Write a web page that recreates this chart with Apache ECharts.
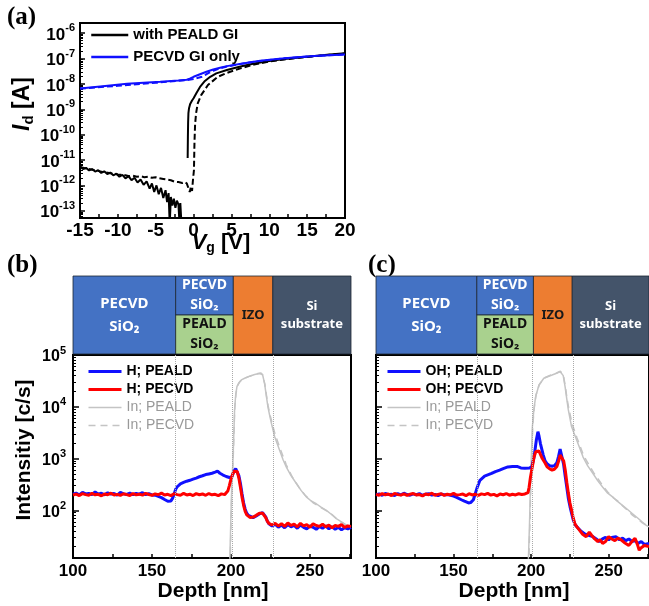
<!DOCTYPE html>
<html><head><meta charset="utf-8">
<script src="https://cdn.jsdelivr.net/npm/echarts@6/dist/echarts.min.js"></script>
<style>html,body{margin:0;padding:0;background:#fff}#c{width:649px;height:606px}</style>
</head><body><div id="c"></div>
<script>
// ---------------- DATA ----------------
// Panel (a): transfer curves
const aPealdFwdV = [-15,-14.6,-14.2,-13.8,-13.4,-13,-12.6,-12.2,-11.8,-11.4,-11,-10.6,-10.2,-9.8,-9.4,-9,-8.6,-8.2,-7.8,-7.4,-7,-6.6,-6.2,-5.8,-5.5,-5.2,-4.9,-4.6,-4.3,-4,-3.7,-3.5,-3.3,-3.15,-3,-2.8,-2.6,-2.4,-2.2,-2,-1.85,-1.75,-1.6,-1.2,-0.78,-0.75,-0.72,-0.68,-0.6,-0.45,-0.2,0,0.4,0.85,1.5,2.2,3,4.4,6.2,8,10,12,14,16,18,20];
const aPealdFwdI = [5.5e-12,4.4e-12,4.9e-12,3.9e-12,4.4e-12,3.5e-12,4e-12,3.1e-12,3.6e-12,2.8e-12,3.2e-12,2.5e-12,2.9e-12,2.2e-12,2.6e-12,1.9e-12,2.3e-12,1.6e-12,2e-12,1.3e-12,1.7e-12,1.05e-12,1.45e-12,7.5e-13,1.2e-12,5.5e-13,1e-12,4.5e-13,8e-13,3.2e-13,6.5e-13,2.2e-13,5e-13,3e-14,3.5e-13,1.6e-13,3e-13,1.3e-13,2.5e-13,1.8e-13,3e-14,2e-13,3e-14,null,1.2e-11,8e-11,3e-10,7e-10,1.1e-9,1.6e-9,2.2e-9,2.7e-9,4.5e-9,7.6e-9,1.3e-8,1.9e-8,2.6e-8,3.5e-8,4.8e-8,6.3e-8,8e-8,9.5e-8,1.1e-7,1.25e-7,1.42e-7,1.6e-7];
const aPealdRevV = [-15,-14,-13,-12,-11,-10,-9,-8.5,-8,-7.5,-7,-6.5,-6,-5.5,-5,-4.5,-4,-3.5,-3,-2.5,-2,-1.5,-1.2,-0.9,-0.7,-0.5,-0.35,-0.2,-0.1,0.05,0.12,0.2,0.33,0.55,1,1.9,3.2,4.4,6.2,8,10,12,14,16,18,20];
const aPealdRevI = [5.3e-12,4.5e-12,3.9e-12,3.4e-12,3e-12,2.7e-12,2.5e-12,2.3e-12,2.4e-12,2.2e-12,2.3e-12,2.1e-12,2.2e-12,2e-12,2.1e-12,1.9e-12,1.8e-12,1.7e-12,1.6e-12,1.4e-12,1.35e-12,1.25e-12,1.35e-12,1.2e-12,1.4e-12,5.5e-13,9e-13,6e-13,1.4e-12,4e-12,5e-11,2.5e-10,6.9e-10,1.7e-9,3.6e-9,9e-9,1.9e-8,2.7e-8,4.1e-8,5.8e-8,7.6e-8,9.2e-8,1.08e-7,1.23e-7,1.4e-7,1.58e-7];
const aPecvdFwdV = [-15,-12,-8.8,-4.4,-2,-0.9,-0.5,0,0.85,1.7,2.6,3.5,4.4,6.5,8.8,11,13.2,16.5,20];
const aPecvdFwdI = [6.6e-9,8.1e-9,1e-8,1.2e-8,1.35e-8,1.45e-8,1.6e-8,1.9e-8,2.4e-8,3e-8,3.7e-8,4.3e-8,5e-8,6.3e-8,8.1e-8,9.5e-8,1.1e-7,1.27e-7,1.45e-7];
const aPecvdRevV = [-15,-10,-5,-1,0,0.5,1,1.5,2,2.6,3.5,4.4,6,8,12,16,20];
const aPecvdRevI = [6.5e-9,8.4e-9,1.1e-8,1.4e-8,1.55e-8,1.7e-8,1.85e-8,2.2e-8,2.7e-8,3.3e-8,4.1e-8,4.8e-8,6e-8,7.5e-8,1.02e-7,1.25e-7,1.43e-7];
const aXTicks = [-15,-10,-5,0,5,10,15,20];
const aYTicks = [1e-13,1e-12,1e-11,1e-10,1e-9,1e-8,1e-7,1e-6];

// Panel (b): H depth profiles
const hPealdD = [100,102,104,106,108,110,112,114,116,118,120,122,124,126,128,130,132,134,136,138,140,142,144,146,148,150,152,154,156,158,160,161,162,163,164,165,166,167,168,170,172,174,176,178,180,182,184,186,188,190,191.5,193,195,197,199,200.5,202,203,204,205,206,207,208,209,210,211,212,214,216,218,219,220,221,222,223,224,225,226,228,230,232,234,236,238,240,242,244,246,248,250,252,254,256,258,260,262,264,266,268,270,272,274,276];
const hPealdV = [205,215,198,222,207,212,200,226,204,214,199,218,206,211,196,221,208,203,215,200,212,205,219,201,210,198,196,186,176,162,150,145,152,170,205,255,285,310,325,345,365,380,400,420,445,465,490,505,520,545,570,520,480,450,430,440,580,640,610,470,330,210,140,105,88,80,74,72,78,85,92,90,85,75,62,55,52,50,54,47,52,46,53,48,51,45,52,47,44,50,47,43,49,45,50,44,48,43,47,42,46,44,47];
const hPecvdD = [100,102,104,106,108,110,112,114,116,118,120,122,124,126,128,130,132,134,136,138,140,142,144,146,148,150,152,154,156,158,160,162,164,166,168,170,172,174,176,178,180,182,184,186,188,190,192,194,196,197,198,199,200,201,202,203,204,205,206,207,208,209,210,211,212,214,216,218,219,220,221,222,223,224,225,226,228,230,232,234,236,238,240,242,244,246,248,250,252,254,256,258,260,262,264,266,268,270,272,274,276];
const hPecvdV = [198,206,193,210,201,196,212,199,204,191,207,200,214,197,203,195,209,201,193,211,199,205,196,213,202,194,208,200,215,197,204,192,209,201,196,212,198,205,193,210,200,207,195,211,199,204,192,208,201,205,235,300,400,490,570,610,560,420,280,180,125,95,82,76,73,74,80,88,92,88,82,72,62,56,54,52,56,50,55,49,57,51,54,48,56,50,53,47,55,51,49,54,48,52,46,51,49,53,47,50,49];
const inPealdBD = [199,200,200.5,201.3,202.3,203,203.8,205,206.6,209,211.8,215,218,219.2,220,221.3,222.3,223.4,224.5,225.6,227.7,230.8,233,235,238,241.4,244.5,247.7,251,254,257,260.4,263.5,266.7,270,273,276];
const inPealdBV = [5,80,300,940,8700,17000,24500,29000,33000,36000,39000,42000,44000,46000,42000,28000,17000,10000,6800,4800,2640,1450,950,690,470,330,240,182,150,134,115,100,84,69,60,52,48];
const inPecvdBD = [199.3,200.2,200.7,201.5,202.4,203.2,204,205.5,207,210,213,216,219,220,221.5,222.5,223.5,224.6,225.8,228,231,235,239,243,247,252,256,260,264,268,272,276];
const inPecvdBV = [5,90,350,1200,9500,18000,25000,30000,34000,37000,40000,43000,45000,41000,27000,16500,10500,7200,5200,2900,1600,760,430,280,195,140,118,100,83,64,54,48];

// Panel (c): OH depth profiles
const ohPealdD = [100,102,104,106,108,110,112,114,116,118,120,122,124,126,128,130,132,134,136,138,140,142,144,146,148,150,152,155,157,159.7,161,162.8,164,165,167,170,174.5,177,179.7,182,185,188,191.3,193.4,196,199,200.5,201.9,203.4,204.4,205,206,207.8,209,210.3,212,213.5,215,216.6,217.7,218.7,219.5,220.9,222,223,224,225.1,226,227.2,228.5,230.4,232,234.6,237,239.9,242,244,246,248,250,252,254.6,257,259,261,263,265,267,269,271,273,276];
const ohPealdV = [198,207,195,212,201,204,193,210,199,214,202,196,208,200,211,194,205,209,197,203,192,206,199,201,195,188,178,160,150,139,141,160,210,263,380,457,515,560,600,640,690,705,700,660,650,655,700,1070,2300,3300,2800,1950,1180,900,790,730,710,730,830,1100,1520,1450,790,450,280,170,117,90,65,52,45,40,35,33,31,28,25,28,30,27,30,31,27,29,26,28,25,26,23,25,22,23];
const ohPecvdD = [100,102,104,106,108,110,112,114,116,118,120,122,124,126,128,130,132,134,136,138,140,142,144,146,148,150,152,154,156,158,160,162,164,166,168,170,172,174,176,178,180,182,184,186,188,190,192,194,196,198,198.7,199.5,200.4,201.9,203,204,205,206,207.2,209,210.3,212,213.5,215,216.6,218,218.7,219.8,221,222,223,224,225,226.1,227,228.2,229.5,231.3,233,235.5,237.5,239,241,243,244.5,246.1,248,250,252,254,256,258,260,263,265,267,268.5,269.7,271,273,276];
const ohPecvdV = [203,196,210,199,206,193,212,201,197,208,195,204,211,198,202,190,207,200,214,196,203,209,194,205,199,212,197,201,206,192,210,198,204,195,208,201,213,197,203,190,206,200,211,196,204,198,209,202,207,220,280,420,600,1070,1350,1450,1400,1200,1000,820,690,630,600,620,700,950,1170,1220,900,600,350,215,140,100,75,55,48,41,35,31,38,33,28,25,27,23,25,31,28,26,29,27,24,21,25,29,22,17,19,21,20];
const inPealdCD = [198.1,199,199.7,200.3,200.8,201.8,202.9,205,208.2,213.5,216,218.7,219.8,220.7,221.9,223,224,226.1,229.3,233.5,236.5,239.9,243,246.2,249,252.5,255.5,258.9,262,265.2,268.5,271.5,274,276];
const inPealdCV = [8,60,450,1500,4000,9000,15600,26000,35500,41000,44000,48000,50000,40000,24500,14000,8700,4100,2300,1070,720,515,370,280,220,182,150,125,105,87,72,60,52,48];
const inPecvdCD = [198.4,199.3,200,200.6,201.1,202.1,203.2,205.3,208.5,213,216.5,219,220.2,221,222.2,223.3,224.4,226.5,229.6,233.8,237,240.2,243.5,246.5,250,253,256,259.2,262.5,265.5,268.8,271.8,274,276];
const inPecvdCV = [8,70,500,1700,4500,10000,17000,27000,36000,41500,45000,48500,51000,38000,23000,13500,9000,4600,2500,1150,780,540,390,290,215,175,150,120,98,80,68,57,52,49];

const depthTicks = [100,150,200,250];
const intensityTicks = [1e2,1e3,1e4,1e5];
const interfaces = [165,201,227];

// Layer stack (depth ranges, rows 0..2)
const layerText = ['PECVD\nSiO\u2082','PECVD\nSiO\u2082','PEALD\nSiO\u2082','IZO','Si\nsubstrate'];
const layerFrom = [100,165,165,201.5,226.5];
const layerTo   = [165,201.5,201.5,226.5,276];
const layerLow  = [0,1,0,0,0];
const layerHigh = [2,2,1,2,2];

// ---------------- STYLE ----------------
const FONT = '"Liberation Sans", Arial, Helvetica, sans-serif';
const LFONT = '"Noto Sans", "Open Sans", "DejaVu Sans", sans-serif';
const BLUE = '#1010ff', RED = '#ff0000', GRAY = '#c4c4c4';
const layerStyle = [
  {fill:'#4472C4', color:'#fff', size:15, lh:23},
  {fill:'#4472C4', color:'#fff', size:14, lh:20},
  {fill:'#A9D18E', color:'#111', size:14, lh:20},
  {fill:'#ED7D31', color:'#1a1a1a', size:13, lh:18},
  {fill:'#44546A', color:'#fff', size:13, lh:18}
];

function pairs(xs, ys){ return xs.map((x,i)=>[x, ys[i] === null ? '-' : ys[i]]); }
function logMinor(e0, e1){ const r=[]; for(let e=e0;e<e1;e++) for(let k=2;k<10;k++) r.push(k*Math.pow(10,e)); return r; }
function powLabel(v){ return '{b|10}{s|' + Math.round(Math.log10(v)) + '}'; }

const chart = echarts.init(document.getElementById('c'), null, {renderer:'canvas'});

const axisLineStyle = {show:true, onZero:false, lineStyle:{color:'#000', width:2}};
function richPow(big, small){
  return {
    b:{fontFamily:FONT, fontWeight:'bold', fontSize:big, color:'#000', lineHeight:big+4, verticalAlign:'bottom'},
    s:{fontFamily:FONT, fontWeight:'bold', fontSize:small, color:'#000', lineHeight:small, verticalAlign:'top'}
  };
}

function layerRender(params, api){
  const i = params.dataIndex;
  const p0 = api.coord([layerFrom[i], layerHigh[i]]);
  const p1 = api.coord([layerTo[i], layerLow[i]]);
  const st = layerStyle[i];
  return {
    type:'group',
    children:[
      {type:'rect', shape:{x:p0[0], y:p0[1], width:p1[0]-p0[0], height:p1[1]-p0[1]},
       style:{fill:st.fill, stroke:'#1c2633', lineWidth:0.8}},
      {type:'text', x:(p0[0]+p1[0])/2, y:(p0[1]+p1[1])/2,
       style:{text:layerText[i], fill:st.color, fontFamily:LFONT, fontWeight:'bold', fontSize:st.size,
              lineHeight:st.lh, align:'center', verticalAlign:'middle'}}
    ]
  };
}
const layerData = layerFrom.map((v,i)=>[v, layerTo[i], layerLow[i], layerHigh[i]]);

function depthX(grid){
  return {type:'value', gridIndex:grid, min:100, max:276, interval:25,
    axisLine:axisLineStyle,
    axisTick:{show:true, inside:true, length:4, lineStyle:{color:'#000', width:1.5}},
    axisLabel:{customValues:depthTicks, color:'#000', fontFamily:FONT, fontWeight:'bold', fontSize:17, margin:5},
    splitLine:{show:false}};
}
function intensityY(grid, showLabels){
  return {type:'log', gridIndex:grid, min:12, max:1e5, position:'left',
    axisLine:axisLineStyle,
    axisTick:{show:true, inside:true, length:6, customValues:intensityTicks, lineStyle:{color:'#000', width:1.5}},
    axisLabel:{show:showLabels, customValues:intensityTicks, formatter:powLabel, margin:7, rich:richPow(16,11)},
    splitLine:{show:false}};
}
function minorY(grid, min, max, e0, e1){
  return {type:'log', gridIndex:grid, min:min, max:max, position:'left',
    axisLine:{show:false, onZero:false}, axisLabel:{show:false},
    axisTick:{show:true, inside:true, length:3, customValues:logMinor(e0,e1), lineStyle:{color:'#000', width:1}},
    splitLine:{show:false}};
}
function hiddenAxis(grid, min, max){
  return {type:'value', gridIndex:grid, min:min, max:max, show:false, axisLine:{onZero:false}, splitLine:{show:false}};
}
const noSym = {type:'line', symbol:'none', showSymbol:false, animation:false};
const markLines = {silent:true, symbol:'none', label:{show:false},
  lineStyle:{type:'dotted', color:'#aaa', width:1}, data:interfaces.map(v=>({xAxis:v}))};
const legendItem = {opacity:0, borderWidth:0};
const boldText = {fontWeight:'bold', color:'#000'};
const grayText = {fontWeight:'normal', color:'#999'};

const option = {
  backgroundColor:'#fff',
  animation:false,
  grid:[
    {left:80, top:23, width:265, height:195, show:true, borderColor:'#000', borderWidth:2},
    {left:73, top:276, width:278, height:78},
    {left:73, top:355, width:278, height:203, show:true, borderColor:'#000', borderWidth:2},
    {left:376, top:276, width:278, height:78},
    {left:376, top:355, width:278, height:203, show:true, borderColor:'#000', borderWidth:2}
  ],
  xAxis:[
    {type:'value', gridIndex:0, min:-15, max:20, interval:2.5,
      axisLine:axisLineStyle,
      axisTick:{show:true, inside:true, length:4, lineStyle:{color:'#000', width:1.5}},
      axisLabel:{customValues:aXTicks, color:'#000', fontFamily:FONT, fontWeight:'bold', fontSize:19, margin:3},
      splitLine:{show:false}},
    hiddenAxis(1, 100, 276),
    depthX(2),
    hiddenAxis(3, 100, 276),
    depthX(4)
  ],
  yAxis:[
    {type:'log', gridIndex:0, min:5.2e-14, max:2.5e-6, position:'left',
      axisLine:axisLineStyle,
      axisTick:{show:true, inside:true, length:5, customValues:aYTicks, lineStyle:{color:'#000', width:1.5}},
      axisLabel:{customValues:aYTicks, formatter:powLabel, margin:5, rich:richPow(17,11)},
      splitLine:{show:false}},
    minorY(0, 5.2e-14, 2.5e-6, -14, -6),
    hiddenAxis(1, 0, 2),
    intensityY(2, true),
    minorY(2, 12, 1e5, 1, 5),
    hiddenAxis(3, 0, 2),
    intensityY(4, false),
    minorY(4, 12, 1e5, 1, 5)
  ],
  legend:[
    {left:85, top:22, orient:'vertical', itemWidth:37, itemHeight:14, itemGap:6, itemStyle:legendItem,
      lineStyle:{width:2.5},
      data:['with PEALD GI','PECVD GI only'],
      textStyle:{fontFamily:FONT, fontWeight:'bold', fontSize:15, color:'#000', lineHeight:16}},
    {left:82, top:359, orient:'vertical', itemWidth:33, itemHeight:14, itemGap:3, itemStyle:legendItem,
      data:[
        {name:'H; PEALD', textStyle:boldText, lineStyle:{width:3}},
        {name:'H; PECVD', textStyle:boldText, lineStyle:{width:3}},
        {name:'In; PEALD', textStyle:grayText, lineStyle:{width:1.5}},
        {name:'In; PECVD', textStyle:grayText, lineStyle:{width:1.5}}
      ],
      textStyle:{fontFamily:FONT, fontSize:14, lineHeight:15}},
    {left:381, top:359, orient:'vertical', itemWidth:33, itemHeight:14, itemGap:3, itemStyle:legendItem,
      data:[
        {name:'OH; PEALD', textStyle:boldText, lineStyle:{width:3}},
        {name:'OH; PECVD', textStyle:boldText, lineStyle:{width:3}},
        {name:'In; PEALD', textStyle:grayText, lineStyle:{width:1.5}},
        {name:'In; PECVD', textStyle:grayText, lineStyle:{width:1.5}}
      ],
      textStyle:{fontFamily:FONT, fontSize:14, lineHeight:15}}
  ],
  series:[
    // (a)
    Object.assign({}, noSym, {name:'with PEALD GI', xAxisIndex:0, yAxisIndex:0, data:pairs(aPealdFwdV, aPealdFwdI),
      color:'#000', lineStyle:{color:'#000', width:2}}),
    Object.assign({}, noSym, {name:'with PEALD GI (reverse)', xAxisIndex:0, yAxisIndex:0, data:pairs(aPealdRevV, aPealdRevI),
      color:'#000', lineStyle:{color:'#000', width:2, type:[6,3]}}),
    Object.assign({}, noSym, {name:'PECVD GI only (reverse)', xAxisIndex:0, yAxisIndex:0, data:pairs(aPecvdRevV, aPecvdRevI),
      color:BLUE, lineStyle:{color:BLUE, width:2, type:[6,3]}}),
    Object.assign({}, noSym, {name:'PECVD GI only', xAxisIndex:0, yAxisIndex:0, data:pairs(aPecvdFwdV, aPecvdFwdI),
      color:BLUE, lineStyle:{color:BLUE, width:2}}),
    // (b) layers
    {type:'custom', xAxisIndex:1, yAxisIndex:2, data:layerData, renderItem:layerRender, silent:true,
      encode:{x:[0,1], y:[2,3]}},
    // (b) profiles
    Object.assign({}, noSym, {name:'In; PEALD', xAxisIndex:2, yAxisIndex:3, data:pairs(inPealdBD, inPealdBV),
      color:GRAY, lineStyle:{color:GRAY, width:1.5}, markLine:markLines}),
    Object.assign({}, noSym, {name:'In; PECVD', xAxisIndex:2, yAxisIndex:3, data:pairs(inPecvdBD, inPecvdBV),
      color:GRAY, lineStyle:{color:GRAY, width:1.5, type:[7,5]}}),
    Object.assign({}, noSym, {name:'H; PEALD', xAxisIndex:2, yAxisIndex:3, data:pairs(hPealdD, hPealdV),
      color:BLUE, lineStyle:{color:BLUE, width:3}}),
    Object.assign({}, noSym, {name:'H; PECVD', xAxisIndex:2, yAxisIndex:3, data:pairs(hPecvdD, hPecvdV),
      color:RED, lineStyle:{color:RED, width:3}}),
    // (c) layers
    {type:'custom', xAxisIndex:3, yAxisIndex:5, data:layerData, renderItem:layerRender, silent:true,
      encode:{x:[0,1], y:[2,3]}},
    // (c) profiles
    Object.assign({}, noSym, {name:'In; PEALD', xAxisIndex:4, yAxisIndex:6, data:pairs(inPealdCD, inPealdCV),
      color:GRAY, lineStyle:{color:GRAY, width:1.5}, markLine:markLines}),
    Object.assign({}, noSym, {name:'In; PECVD', xAxisIndex:4, yAxisIndex:6, data:pairs(inPecvdCD, inPecvdCV),
      color:GRAY, lineStyle:{color:GRAY, width:1.5, type:[7,5]}}),
    Object.assign({}, noSym, {name:'OH; PEALD', xAxisIndex:4, yAxisIndex:6, data:pairs(ohPealdD, ohPealdV),
      color:BLUE, lineStyle:{color:BLUE, width:3}}),
    Object.assign({}, noSym, {name:'OH; PECVD', xAxisIndex:4, yAxisIndex:6, data:pairs(ohPecvdD, ohPecvdV),
      color:RED, lineStyle:{color:RED, width:3}})
  ],
  graphic:[
    {type:'text', left:7, top:5, style:{text:'(a)', fontFamily:'"Liberation Serif", "Times New Roman", serif', fontWeight:'bold', fontSize:25, fill:'#000'}},
    {type:'text', left:7, top:253, style:{text:'(b)', fontFamily:'"Liberation Serif", "Times New Roman", serif', fontWeight:'bold', fontSize:25, fill:'#000'}},
    {type:'text', left:368, top:253, style:{text:'(c)', fontFamily:'"Liberation Serif", "Times New Roman", serif', fontWeight:'bold', fontSize:25, fill:'#000'}},
    {type:'text', x:23, y:104, rotation:Math.PI/2,
      style:{text:'{i|I}{d|d}{n| [A]}', align:'center', verticalAlign:'middle',
        rich:{i:{fontFamily:FONT, fontWeight:'bold', fontStyle:'italic', fontSize:23, lineHeight:26, fill:'#000'},
              d:{fontFamily:FONT, fontWeight:'bold', fontSize:15, lineHeight:14, verticalAlign:'bottom', fill:'#000'},
              n:{fontFamily:FONT, fontWeight:'bold', fontSize:23, lineHeight:26, fill:'#000'}}}},
    {type:'text', x:221, y:243,
      style:{text:'{i|V}{d|g}{n| [V]}', align:'center', verticalAlign:'middle',
        rich:{i:{fontFamily:FONT, fontWeight:'bold', fontStyle:'italic', fontSize:22, lineHeight:24, fill:'#000'},
              d:{fontFamily:FONT, fontWeight:'bold', fontSize:14, lineHeight:12, verticalAlign:'bottom', fill:'#000'},
              n:{fontFamily:FONT, fontWeight:'bold', fontSize:22, lineHeight:24, fill:'#000'}}}},
    {type:'text', x:24, y:450, rotation:Math.PI/2,
      style:{text:'Intensitiy [c/s]', align:'center', verticalAlign:'middle', fontFamily:FONT, fontWeight:'bold', fontSize:21, fill:'#000'}},
    {type:'text', x:213, y:591,
      style:{text:'Depth [nm]', align:'center', verticalAlign:'middle', fontFamily:FONT, fontWeight:'bold', fontSize:21, fill:'#000'}},
    {type:'text', x:514, y:591,
      style:{text:'Depth [nm]', align:'center', verticalAlign:'middle', fontFamily:FONT, fontWeight:'bold', fontSize:21, fill:'#000'}}
  ]
};
chart.setOption(option);
</script>
</body></html>
